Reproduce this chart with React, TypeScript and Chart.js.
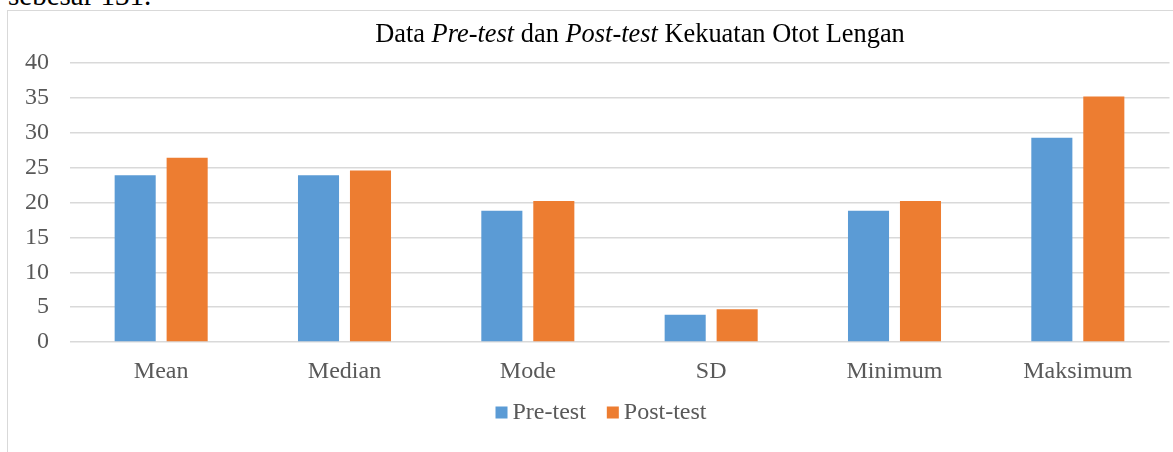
import React, { useEffect, useRef } from "react";
import { Chart, registerables } from "chart.js";

Chart.register(...registerables);

const categories = ["Mean", "Median", "Mode", "SD", "Minimum", "Maksimum"];
const preTest = [23.9, 23.9, 18.8, 3.9, 18.8, 29.3];
const postTest = [26.4, 24.6, 20.2, 4.7, 20.2, 35.2];
const seriesNames = ["Pre-test", "Post-test"];
const seriesColors = ["#5b9bd5", "#ed7d31"];
const titleParts = [
  { text: "Data ", italic: false },
  { text: "Pre-test", italic: true },
  { text: " dan ", italic: false },
  { text: "Post-test", italic: true },
  { text: " Kekuatan Otot Lengan", italic: false },
];
const pageText = "sebesar 131.";

const FONT = "'Liberation Serif', 'Times New Roman', serif";

const titlePlugin = {
  id: "mixedTitle",
  afterDraw(chart: any) {
    const ctx = chart.ctx;
    ctx.save();
    const size = 26.4;
    const fontOf = (it: boolean) => `${it ? "italic " : ""}${size}px ${FONT}`;
    let total = 0;
    const widths = titleParts.map((p) => {
      ctx.font = fontOf(p.italic);
      const w = ctx.measureText(p.text).width;
      total += w;
      return w;
    });
    let x = 640 - total / 2;
    ctx.fillStyle = "#000000";
    ctx.textBaseline = "alphabetic";
    ctx.textAlign = "left";
    titleParts.forEach((p, i) => {
      ctx.font = fontOf(p.italic);
      ctx.fillText(p.text, x, 42);
      x += widths[i];
    });
    ctx.restore();
  },
};

const legendPlugin = {
  id: "customLegend",
  afterDraw(chart: any) {
    const ctx = chart.ctx;
    ctx.save();
    ctx.font = `24px ${FONT}`;
    const box = 12;
    const gap = 5;
    const itemGap = 21;
    const items = chart.data.datasets.map((d: any) => ({
      label: d.label,
      color: d.backgroundColor,
      w: ctx.measureText(d.label).width,
    }));
    const total =
      items.reduce((s: number, it: any) => s + box + gap + it.w, 0) +
      itemGap * (items.length - 1);
    let x = 601 - total / 2;
    const cy = 412.5;
    ctx.textBaseline = "middle";
    ctx.textAlign = "left";
    items.forEach((it: any) => {
      ctx.fillStyle = it.color;
      ctx.fillRect(x, cy - box / 2, box, box);
      x += box + gap;
      ctx.fillStyle = "#595959";
      ctx.fillText(it.label, x, cy);
      x += it.w + itemGap;
    });
    ctx.restore();
  },
};

export default function App() {
  const ref = useRef<HTMLCanvasElement | null>(null);
  useEffect(() => {
    if (!ref.current) return;
    const chart = new Chart(ref.current, {
      type: "bar",
      data: {
        labels: categories,
        datasets: [
          {
            label: seriesNames[0],
            data: preTest,
            backgroundColor: seriesColors[0],
            categoryPercentage: 0.567,
            barPercentage: 0.79,
          },
          {
            label: seriesNames[1],
            data: postTest,
            backgroundColor: seriesColors[1],
            categoryPercentage: 0.567,
            barPercentage: 0.79,
          },
        ],
      },
      options: {
        responsive: false,
        animation: false,
        layout: { padding: { left: 8, right: 3.5, top: 63, bottom: 61.5 } },
        plugins: {
          title: { display: false },
          tooltip: { enabled: false },
          legend: { display: false },
        },
        scales: {
          x: {
            grid: { display: false },
            border: { display: false },
            ticks: {
              color: "#595959",
              font: { family: FONT, size: 24 },
              padding: 7,
              maxRotation: 0,
            },
            afterFit: (s: any) => {
              s.height = 48.5;
            },
          },
          y: {
            min: 0,
            max: 40,
            ticks: {
              stepSize: 5,
              color: "#595959",
              font: { family: FONT, size: 24 },
              padding: 20.5,
            },
            grid: { color: "#d9d9d9", lineWidth: 1.5, drawTicks: false },
            border: { display: false },
            afterFit: (s: any) => {
              s.width = 61.5;
            },
          },
        },
      },
      plugins: [titlePlugin, legendPlugin],
    });
    return () => chart.destroy();
  }, []);

  return (
    <div>
      <div
        style={{
          position: "absolute",
          left: 8,
          top: -19,
          fontFamily: FONT,
          fontSize: 29,
          lineHeight: "29px",
          color: "#000",
          whiteSpace: "nowrap",
        }}
      >
        {pageText}
      </div>
      <div
        style={{
          position: "absolute",
          left: 7,
          top: 10,
          width: 1300,
          height: 600,
          border: "1.5px solid #d9d9d9",
          boxSizing: "border-box",
        }}
      />
      <canvas
        ref={ref}
        width={1173}
        height={452}
        style={{ position: "absolute", left: 0, top: 0, width: 1173, height: 452 }}
      />
    </div>
  );
}
